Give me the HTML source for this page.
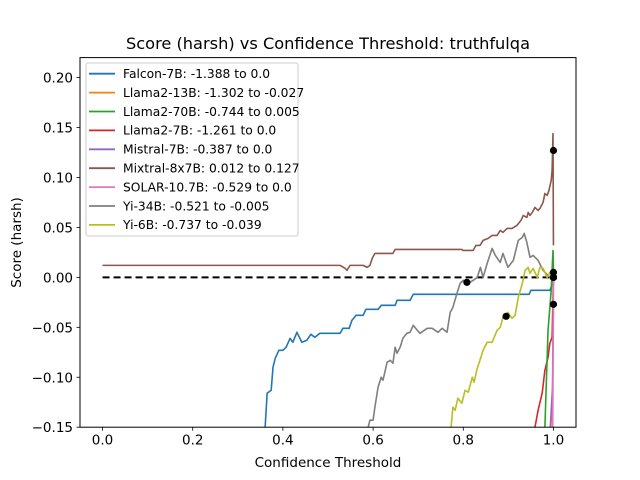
<!DOCTYPE html>
<html><head><meta charset="utf-8"><style>
html,body{margin:0;padding:0;background:#fff;}
svg{display:block;font-family:"DejaVu Sans","Liberation Sans",sans-serif;}
</style></head><body>
<svg id="chart" width="640" height="480" viewBox="0 0 640 480" xmlns="http://www.w3.org/2000/svg">
<rect width="640" height="480" fill="#fff"/>
<text x="328" y="49" font-size="16.2" text-anchor="middle">Score (harsh) vs Confidence Threshold: truthfulqa</text>
<text x="328" y="467" font-size="13.5" text-anchor="middle">Confidence Threshold</text>
<text transform="translate(21,242.5) rotate(-90)" font-size="13.5" text-anchor="middle">Score (harsh)</text>
<defs><clipPath id="plotclip"><rect x="80" y="57.6" width="496" height="369.6"/></clipPath></defs>
<g id="ticks"></g>
<g id="series" clip-path="url(#plotclip)"></g>
<rect x="80" y="57.6" width="496" height="369.6" fill="none" stroke="#000" stroke-width="1"/>
<g id="legend"></g>
</svg>
<script>
const xTicks = [0.0, 0.2, 0.4, 0.6, 0.8, 1.0];
const xTickLabels = ["0.0", "0.2", "0.4", "0.6", "0.8", "1.0"];
const yTicks = [-0.15, -0.10, -0.05, 0.00, 0.05, 0.10, 0.15, 0.20];
const yTickLabels = ["−0.15", "−0.10", "−0.05", "0.00", "0.05", "0.10", "0.15", "0.20"];
const seriesNames = ["Falcon-7B: -1.388 to 0.0","Llama2-13B: -1.302 to -0.027","Llama2-70B: -0.744 to 0.005","Llama2-7B: -1.261 to 0.0","Mistral-7B: -0.387 to 0.0","Mixtral-8x7B: 0.012 to 0.127","SOLAR-10.7B: -0.529 to 0.0","Yi-34B: -0.521 to -0.005","Yi-6B: -0.737 to -0.039"];
const seriesColors = ["#1f77b4","#ff7f0e","#2ca02c","#d62728","#9467bd","#8c564b","#e377c2","#7f7f7f","#bcbd22"];
const falconX = [0.358,0.3606,0.365,0.374,0.378,0.383,0.391,0.400,0.407,0.416,0.422,0.431,0.442,0.453,0.462,0.471,0.482,0.527,0.533,0.547,0.553,0.562,0.578,0.584,0.611,0.618,0.649,0.653,0.682,0.689,0.946,0.950,0.992,0.999,1.0];
const falconY = [-0.2,-0.15,-0.116,-0.113,-0.090,-0.081,-0.073,-0.073,-0.070,-0.061,-0.065,-0.055,-0.065,-0.063,-0.057,-0.060,-0.056,-0.056,-0.051,-0.051,-0.043,-0.038,-0.038,-0.032,-0.032,-0.028,-0.028,-0.023,-0.023,-0.017,-0.017,-0.013,-0.013,-0.005,0.0];
const llama13X = [0.996,0.999,1.0];
const llama13Y = [-0.2,-0.08,-0.027];
const llama70X = [0.979,0.981,0.988,0.995,0.999,1.0];
const llama70Y = [-0.2,-0.15,-0.053,-0.013,0.027,0.005];
const llama7X = [0.957,0.959,0.966,0.975,0.981,0.988,0.992,0.997,1.0];
const llama7Y = [-0.2,-0.15,-0.133,-0.116,-0.093,-0.080,-0.066,-0.060,0.0];
const mistralX = [0.990,0.993,0.998,1.0];
const mistralY = [-0.2,-0.15,-0.11,0.0];
const mixtralX = [0.0,0.527,0.538,0.542,0.549,0.578,0.587,0.593,0.598,0.604,0.644,0.649,0.797,0.799,0.822,0.828,0.837,0.844,0.855,0.864,0.875,0.882,0.888,0.897,0.908,0.919,0.928,0.933,0.941,0.944,0.948,0.953,0.959,0.966,0.970,0.977,0.981,0.986,0.990,0.995,0.997,0.999,1.0];
const mixtralY = [0.012,0.012,0.009,0.007,0.012,0.012,0.010,0.012,0.019,0.024,0.024,0.028,0.028,0.027,0.027,0.032,0.032,0.037,0.039,0.042,0.042,0.047,0.045,0.049,0.049,0.052,0.057,0.062,0.060,0.065,0.062,0.065,0.070,0.067,0.069,0.075,0.084,0.082,0.087,0.097,0.107,0.144,0.032];
const solarX = [0.998,0.999,1.0];
const solarY = [-0.2,-0.1,0.0];
const yi34X = [0.587,0.589,0.593,0.600,0.604,0.611,0.618,0.622,0.631,0.638,0.644,0.649,0.653,0.660,0.666,0.675,0.682,0.689,0.698,0.704,0.720,0.731,0.744,0.753,0.764,0.771,0.777,0.786,0.793,0.800,0.811,0.822,0.831,0.838,0.844,0.853,0.864,0.871,0.882,0.888,0.899,0.911,0.922,0.931,0.935,0.941,0.948,0.955,0.966,0.977,0.992,0.999,1.0];
const yi34Y = [-0.2,-0.150,-0.143,-0.143,-0.130,-0.110,-0.100,-0.103,-0.085,-0.083,-0.086,-0.070,-0.076,-0.070,-0.061,-0.056,-0.055,-0.048,-0.053,-0.056,-0.051,-0.051,-0.055,-0.051,-0.055,-0.035,-0.030,-0.016,-0.006,-0.003,-0.006,-0.003,0.000,0.010,0.000,0.014,0.029,0.022,0.015,0.024,0.010,0.017,0.037,0.040,0.044,0.035,0.020,0.022,0.017,0.007,0.000,0.004,-0.005];
const yi6X = [0.771,0.773,0.777,0.782,0.788,0.797,0.804,0.811,0.820,0.824,0.831,0.837,0.844,0.853,0.864,0.875,0.882,0.888,0.899,0.908,0.915,0.922,0.931,0.937,0.944,0.948,0.955,0.964,0.970,0.977,0.986,0.992,0.999,1.0];
const yi6Y = [-0.2,-0.150,-0.130,-0.133,-0.121,-0.126,-0.113,-0.115,-0.100,-0.105,-0.091,-0.083,-0.073,-0.065,-0.065,-0.053,-0.050,-0.040,-0.035,-0.041,-0.038,-0.020,-0.006,0.007,0.010,0.004,0.009,0.000,0.010,0.009,0.000,0.005,-0.001,-0.039];
const markerX = [1.0,1.0,1.0,1.0,1.0,1.0,1.0,0.808,0.895];
const markerY = [0.0,-0.027,0.005,0.0,0.0,0.127,0.0,-0.005,-0.039];

const NS = "http://www.w3.org/2000/svg";
const X0 = 80, X1 = 576, Y0 = 427.2, Y1 = 57.6;
const xMin = -0.05, xMax = 1.05, yMin = -0.15, yMax = 0.22;
function sx(v){ return X0 + (v - xMin) / (xMax - xMin) * (X1 - X0); }
function sy(v){ return Y0 - (v - yMin) / (yMax - yMin) * (Y0 - Y1); }
function mk(tag, attrs){ const e = document.createElementNS(NS, tag); for (const k in attrs) e.setAttribute(k, attrs[k]); return e; }

const ticks = document.getElementById('ticks');
xTicks.forEach((t, i) => {
  const l = mk('line', {x1: sx(t), x2: sx(t), y1: Y0, y2: Y0 + 3.5, stroke: '#000', 'stroke-width': 0.8});
  
  
  ticks.appendChild(l);
  const tx = mk('text', {x: sx(t), y: Y0 + 17.5, 'font-size': 13.5, 'text-anchor': 'middle'});
  tx.textContent = xTickLabels[i];
  
  
  ticks.appendChild(tx);
});
yTicks.forEach((t, i) => {
  const l = mk('line', {x1: X0 - 3.5, x2: X0, y1: sy(t), y2: sy(t), stroke: '#000', 'stroke-width': 0.8});
  
  
  ticks.appendChild(l);
  const tx = mk('text', {x: X0 - 7, y: sy(t) + 5, 'font-size': 13.5, 'text-anchor': 'end'});
  tx.textContent = yTickLabels[i];
  
  
  ticks.appendChild(tx);
});

const series = document.getElementById('series');
const baseline = mk('line', {x1: sx(0), x2: sx(1), y1: sy(0), y2: sy(0), stroke: '#000', 'stroke-width': 2, 'stroke-dasharray': '7,4'});


series.appendChild(baseline);

const allX = [falconX, llama13X, llama70X, llama7X, mistralX, mixtralX, solarX, yi34X, yi6X];
const allY = [falconY, llama13Y, llama70Y, llama7Y, mistralY, mixtralY, solarY, yi34Y, yi6Y];
const seriesKeys = ["falcon-7b","llama2-13b","llama2-70b","llama2-7b","mistral-7b","mixtral-8x7b","solar-10-7b","yi-34b","yi-6b"];
const drawOrder = [0,1,5,7,8,3,2,4,6];
drawOrder.forEach(i => {
  const pts = allX[i].map((x, j) => sx(x).toFixed(2) + ',' + sy(allY[i][j]).toFixed(2)).join(' ');
  const p = mk('polyline', {points: pts, fill: 'none', stroke: seriesColors[i], 'stroke-width': 1.6, 'stroke-linejoin': 'round'});
  
  
  series.appendChild(p);
});
markerX.forEach((x, i) => {
  const c = mk('circle', {cx: sx(x), cy: sy(markerY[i]), r: 3.6, fill: '#000'});
  
  
  series.appendChild(c);
});

const legend = document.getElementById('legend');
const box = mk('rect', {x: 86, y: 63, width: 212, height: 173, rx: 2, fill: '#fff', 'fill-opacity': 0.8, stroke: '#ccc', 'stroke-width': 1});


legend.appendChild(box);
seriesNames.forEach((n, i) => {
  const yy = 73.7 + i * 18.9;
  const l = mk('line', {x1: 89, x2: 115, y1: yy, y2: yy, stroke: seriesColors[i], 'stroke-width': 1.8});
  
  
  legend.appendChild(l);
  const t = mk('text', {x: 123, y: yy + 4.3, 'font-size': 12.3});
  t.textContent = n;
  
  
  legend.appendChild(t);
});
</script>
</body></html>
